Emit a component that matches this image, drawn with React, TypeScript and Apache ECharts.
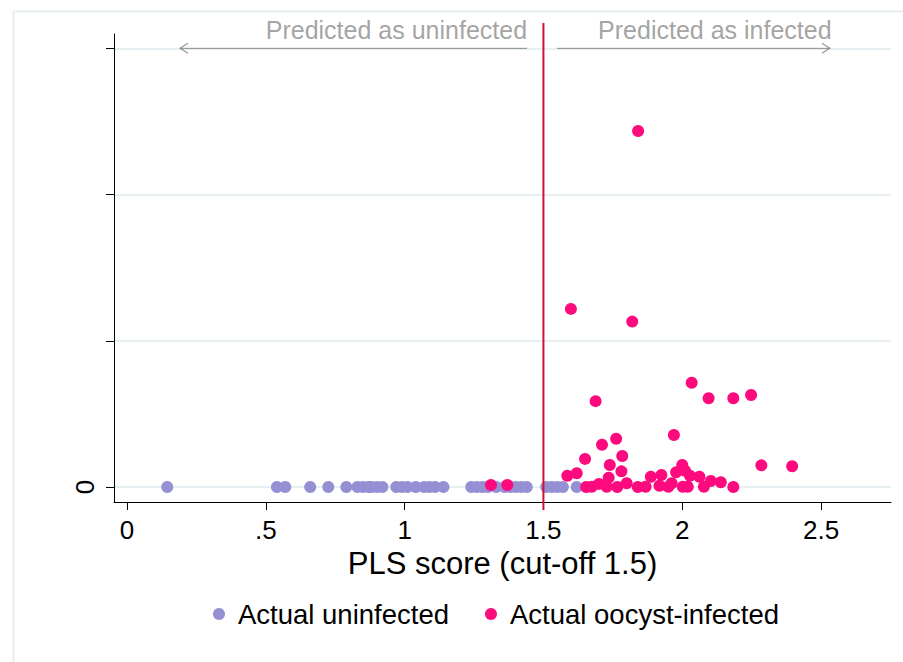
import React, { useEffect, useRef } from 'react';
import * as echarts from 'echarts';

// PLS scores of actually uninfected samples (all plotted at y = 0)
const uninfectedX = [
  0.145, 0.54, 0.57, 0.66, 0.725, 0.79, 0.83, 0.85, 0.87, 0.88, 0.9, 0.92,
  0.97, 0.99, 1.01, 1.04, 1.07, 1.09, 1.11, 1.14, 1.24, 1.26, 1.28, 1.3, 1.33,
  1.36, 1.38, 1.4, 1.42, 1.44, 1.51, 1.53, 1.55, 1.57, 1.62,
];

// PLS scores of actually oocyst-infected samples: [score, y]
const infectedX = [
  1.311, 1.37, 1.841, 1.599, 1.82, 1.688, 2.034, 2.095, 2.184, 2.248, 1.97,
  1.762, 1.711, 1.784, 1.65, 1.739, 2.285, 2.396, 2.0, 1.781, 1.62, 1.586,
  1.735, 1.978, 1.887, 1.925, 2.01, 2.062, 2.028, 2.103, 2.139, 2.184, 1.654,
  1.674, 1.7, 1.728, 1.766, 1.8, 1.84, 1.868, 1.918, 1.95, 1.962, 2.002, 2.02,
  2.078,
];
const infectedY = [
  0.014, 0.014, 2.435, 1.218, 1.131, 0.587, 0.713, 0.607, 0.607, 0.629, 0.356,
  0.33, 0.289, 0.212, 0.192, 0.15, 0.148, 0.142, 0.15, 0.107, 0.094, 0.077,
  0.064, 0.101, 0.07, 0.082, 0.111, 0.07, 0.077, 0.041, 0.032, 0.0, 0.0, 0.002,
  0.021, 0.002, 0.0, 0.026, 0.0, 0.002, 0.009, 0.002, 0.026, 0.002, 0.002,
  0.002,
];

const xTicks = [0, 0.5, 1, 1.5, 2, 2.5];
const xTickLabels = ['0', '.5', '1', '1.5', '2', '2.5'];
const yTicks = [0, 1, 2, 3];
const yLabelValues = [0];
const cutoff = 1.5;

// Annotation arrows (data coordinates)
const leftArrow = { from: 1.441, to: 0.191, y: 3 };
const rightArrow = { from: 1.549, to: 2.532, y: 3 };
const annotY = 3.126;
const leftText = 'Predicted as uninfected';
const rightText = 'Predicted as infected';
const leftTextX = 1.441;
const rightTextX = 1.697;

const PURPLE = '#958fd4';
const MAGENTA = '#fc0a7e';
const GRAY = '#8c8c8c';
const RED = '#d0103a';
const FONT = '"Liberation Sans", Arial, sans-serif';

const chevronLeft = 'path://M10,0 L0,5 L10,10';
const chevronRight = 'path://M0,0 L10,5 L0,10';

export default function App() {
  const ref = useRef<HTMLDivElement>(null);
  useEffect(() => {
    if (!ref.current) return;
    const chart = echarts.init(ref.current, undefined, { renderer: 'svg' });
    const option: any = {
      animation: false,
      backgroundColor: '#ffffff',
      textStyle: { fontFamily: FONT },
      graphic: [
        {
          type: 'rect',
          left: 11,
          top: 9,
          shape: { width: 900, height: 660 },
          style: { fill: 'none', stroke: '#e6eef0', lineWidth: 2 },
          silent: true,
        },
      ],
      grid: { left: 114, right: 12, top: 34, bottom: 160, containLabel: false },
      xAxis: {
        type: 'value',
        min: -0.0468,
        max: 2.752,
        axisLine: { show: true, onZero: false, lineStyle: { color: '#000', width: 1 } },
        axisTick: { show: true, length: 8, customValues: xTicks, lineStyle: { color: '#000' } },
        axisLabel: {
          show: true,
          customValues: xTicks,
          margin: 15,
          fontSize: 26,
          color: '#000',
          fontFamily: FONT,
          formatter: (v: number) => {
            const i = xTicks.findIndex((t) => Math.abs(t - v) < 1e-6);
            return i >= 0 ? xTickLabels[i] : '';
          },
        },
        splitLine: { show: false },
        name: 'PLS score (cut-off 1.5)',
        nameLocation: 'middle',
        nameGap: 44,
        nameTextStyle: { fontSize: 31, color: '#000', fontFamily: FONT },
      },
      yAxis: {
        type: 'value',
        min: -0.1026,
        max: 3.098,
        axisLine: { show: true, onZero: false, lineStyle: { color: '#000', width: 1 } },
        axisTick: { show: true, length: 8, customValues: yTicks, lineStyle: { color: '#000' } },
        axisLabel: {
          show: true,
          customValues: yLabelValues,
          rotate: 90,
          margin: 16,
          fontSize: 26,
          color: '#000',
          fontFamily: FONT,
        },
        splitLine: { show: true, lineStyle: { color: '#e6f0f2', width: 2 } },
      },
      legend: {
        data: ['Actual uninfected', 'Actual oocyst-infected'],
        left: 208,
        top: 595,
        icon: 'circle',
        itemWidth: 28,
        itemHeight: 12,
        itemGap: 36,
        textStyle: { fontSize: 27.5, color: '#000', fontFamily: FONT },
      },
      series: [
        {
          name: 'Actual uninfected',
          type: 'scatter',
          symbol: 'circle',
          symbolSize: 12,
          itemStyle: { color: PURPLE, opacity: 1 },
          data: uninfectedX.map((x) => [x, 0]),
        },
        {
          name: 'Actual oocyst-infected',
          type: 'scatter',
          symbol: 'circle',
          symbolSize: 12,
          itemStyle: { color: MAGENTA, opacity: 1 },
          data: infectedX.map((x, i) => [x, infectedY[i]]),
        },
        {
          name: 'leftArrow',
          type: 'line',
          silent: true,
          lineStyle: { color: GRAY, width: 1 },
          itemStyle: { color: 'none', borderColor: GRAY, borderWidth: 1 },
          data: [
            { value: [leftArrow.from, leftArrow.y], symbol: 'none' },
            {
              value: [leftArrow.to, leftArrow.y],
              symbol: chevronLeft,
              symbolSize: [8, 10],
              symbolOffset: [4, 0],
            },
          ],
        },
        {
          name: 'rightArrow',
          type: 'line',
          silent: true,
          lineStyle: { color: GRAY, width: 1 },
          itemStyle: { color: 'none', borderColor: GRAY, borderWidth: 1 },
          data: [
            { value: [rightArrow.from, rightArrow.y], symbol: 'none' },
            {
              value: [rightArrow.to, rightArrow.y],
              symbol: chevronRight,
              symbolSize: [8, 10],
              symbolOffset: [-4, 0],
            },
          ],
        },
        {
          name: 'annotations',
          type: 'scatter',
          silent: true,
          clip: false,
          symbolSize: 0,
          itemStyle: { color: 'transparent' },
          data: [
            {
              value: [leftTextX, annotY],
              label: { show: true, position: 'left', distance: 0, formatter: leftText },
            },
            {
              value: [rightTextX, annotY],
              label: { show: true, position: 'right', distance: 0, formatter: rightText },
            },
          ],
          label: { fontSize: 25, color: GRAY, fontFamily: FONT },
        },
        {
          name: 'cutoff',
          type: 'line',
          silent: true,
          clip: false,
          symbol: 'none',
          lineStyle: { color: RED, width: 2 },
          data: [
            [cutoff, -0.157],
            [cutoff, 3.174],
          ],
        },
      ],
    };
    chart.setOption(option);
    return () => chart.dispose();
  }, []);
  return (
    <div
      ref={ref}
      style={{ position: 'fixed', left: 0, top: 0, width: 903, height: 662 }}
    />
  );
}
